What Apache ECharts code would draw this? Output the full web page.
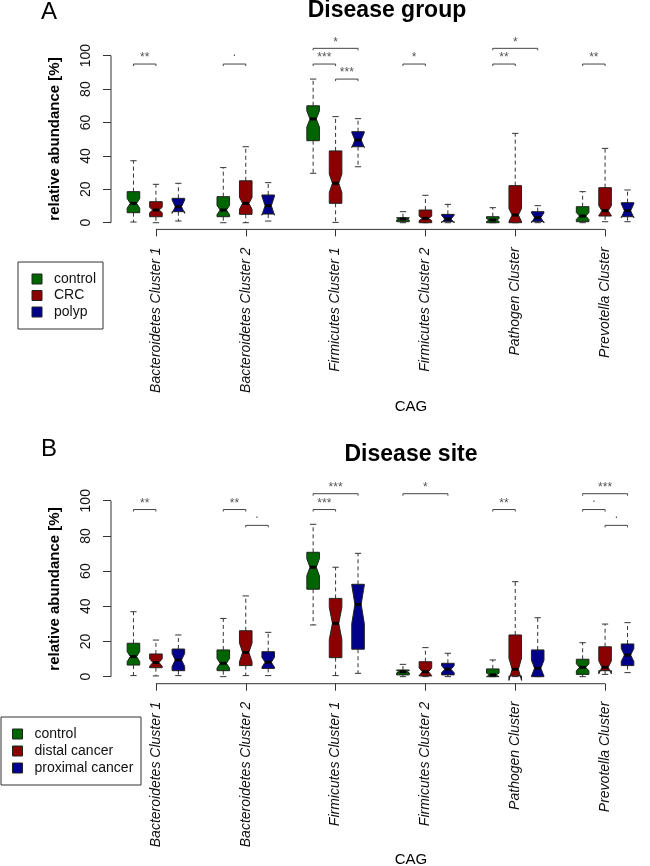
<!DOCTYPE html>
<html>
<head>
<meta charset="utf-8">
<script src="https://cdn.jsdelivr.net/npm/echarts@6/dist/echarts.min.js"></script>
<style>
	html, body { margin: 0; padding: 0; background: #fff; }
	#chart { width: 650px; height: 866px; }
</style>
</head>
<body>
<div id="chart"></div>
<script>
// CAG abundance boxplots, two panels
const categories = ["Bacteroidetes Cluster 1", "Bacteroidetes Cluster 2", "Firmicutes Cluster 1", "Firmicutes Cluster 2", "Pathogen Cluster", "Prevotella Cluster"]
const yTicks = [0, 20, 40, 60, 80, 100]
const catTicks = [2, 6, 10, 14, 18, 22]
const colors = ["#006400", "#8b0000", "#00008b"]

const groupsA = ["control", "CRC", "polyp"]
const groupsB = ["control", "distal cancer", "proximal cancer"]
// sample size per group (used for notch width, as in R)
const sizeA = [47, 80, 10]
const sizeB = [47, 34, 28]

// [lower whisker, Q1, median, Q3, upper whisker] per CAG
const controlA = [[0.4, 6.0, 11.6, 18.6, 37.1], [0, 3.6, 7.6, 15.6, 33], [29.6, 49.1, 62.1, 70, 86], [0, 0.6, 2.2, 3.0, 6.6], [0, 0, 1.6, 3.6, 9], [0, 0.6, 4, 9.6, 18.6]]
const crcA = [[0, 3.6, 7.6, 12.6, 23], [0, 5.0, 11.6, 25.1, 45.5], [0.2, 11.6, 23.6, 43, 63.5], [0, 0, 2.6, 7.6, 16.4], [0, 0, 4.6, 22.2, 53.5], [0.6, 4, 7.2, 21, 44.5]]
const polypA = [[1.0, 6.6, 9.6, 14.6, 23.6], [1.0, 5.2, 10.2, 16.6, 24], [33.5, 45.5, 49.5, 54.5, 62.3], [0, 0.6, 2.2, 5, 11], [0, 0.6, 3, 6.6, 10.2], [0.6, 3.6, 7.2, 12, 19.6]]

const controlB = [[0.6, 6.6, 11.4, 19, 36.9], [0, 3.4, 7.6, 15.2, 33.1], [29.4, 49.7, 62.2, 70.7, 86.6], [0, 1, 2.8, 3.8, 7], [0, 0, 1, 4.4, 9.5], [0, 1.3, 5.3, 9.9, 19.3]]
const distalB = [[0.4, 5.1, 8, 12.9, 20.8], [0.6, 6.3, 13.8, 26.1, 45.9], [0.6, 10.8, 30.3, 44.5, 62.2], [0, 0.4, 2.8, 8.5, 16.5], [0, 0.4, 4.2, 23.7, 54], [1.3, 3.4, 5.3, 17, 29.9]]
const proximalB = [[0.6, 3.4, 9.5, 15.7, 23.7], [0.6, 4.7, 8.2, 14.2, 25.2], [1.9, 15.6, 41.1, 52.5, 70.1], [0, 1, 4.2, 7.6, 13.3], [0, 0, 4.8, 15.2, 33.5], [2.3, 6.3, 12.3, 18.6, 30.7]]

// significance brackets: [CAG index, from group, to group, height, label]
const sigA = [[0, 0, 1, 95, "**"], [1, 0, 1, 95, "."], [2, 0, 2, 104.4, "*"], [2, 0, 1, 95, "***"], [2, 1, 2, 86, "***"], [3, 0, 1, 95, "*"], [4, 0, 2, 104.4, "*"], [4, 0, 1, 95, "**"], [5, 0, 1, 95, "**"]]
const sigB = [[0, 0, 1, 95, "**"], [1, 0, 1, 95, "**"], [1, 1, 2, 86, "."], [2, 0, 2, 104, "***"], [2, 0, 1, 95, "***"], [3, 0, 2, 104, "*"], [4, 0, 1, 95, "**"], [5, 0, 2, 104, "***"], [5, 0, 1, 95, "."], [5, 1, 2, 86, "."]]

const FONT = "'Liberation Sans', Arial, Helvetica, sans-serif"
const BOX_HALF = 0.28
const Y_MIN = -4
const Y_MAX = 104

function boxPos(cat, group) {
	return cat * 4 + 1 + group
}

function renderBox(params, api) {
	let x = api.value(0)
	let lo = api.value(1), q1 = api.value(2), med = api.value(3), q3 = api.value(4), hi = api.value(5)
	let n = api.value(6)
	let conf = 1.58 * (q3 - q1) / Math.sqrt(n)
	let c = function (a, b) {
		return api.coord([a, b])
	}
	let w = BOX_HALF, s = BOX_HALF / 2
	let pts = [c(x - w, q1), c(x + w, q1), c(x + w, med - conf), c(x + s, med), c(x + w, med + conf),
		c(x + w, q3), c(x - w, q3), c(x - w, med + conf), c(x - s, med), c(x - w, med - conf)]
	let dash = {stroke: "#333", lineWidth: 1, lineDash: [4, 3]}
	let solid = {stroke: "#333", lineWidth: 1}
	let line = function (p1, p2, style) {
		return {type: "line", shape: {x1: p1[0], y1: p1[1], x2: p2[0], y2: p2[1]}, style: style}
	}
	return {
		type: "group",
		children: [
			line(c(x, q3), c(x, hi), dash),
			line(c(x, q1), c(x, lo), dash),
			line(c(x - s, hi), c(x + s, hi), solid),
			line(c(x - s, lo), c(x + s, lo), solid),
			{type: "polygon", shape: {points: pts}, style: {fill: api.visual("color"), stroke: "#222", lineWidth: 1}},
			line(c(x - s, med), c(x + s, med), {stroke: "#000", lineWidth: 3})
		]
	}
}

function makeSigRenderer(sig) {
	return function (params, api) {
		let p1 = api.coord([api.value(0), api.value(2)])
		let p2 = api.coord([api.value(1), api.value(2)])
		let label = sig[params.dataIndex][4]
		let isDot = label == "."
		return {
			type: "group",
			children: [
				{type: "polyline", shape: {points: [[p1[0], p1[1] + 2], [p1[0], p1[1]], [p2[0], p2[1]], [p2[0], p2[1] + 2]]}, style: {stroke: "#444", lineWidth: 1, fill: null}},
				{type: "text", x: (p1[0] + p2[0]) / 2, y: p1[1] - (isDot ? 5 : 0), style: {text: label, align: "center", verticalAlign: "bottom", fontSize: 12, fontFamily: FONT, fill: "#555"}}
			]
		}
	}
}

function panelSeries(idx, groups, values, sizes, sig) {
	let series = []
	groups.forEach(function (g, gi) {
		series.push({
			name: g,
			type: "custom",
			xAxisIndex: idx,
			yAxisIndex: idx,
			itemStyle: {color: colors[gi]},
			encode: {x: 0, y: [1, 2, 3, 4, 5]},
			renderItem: renderBox,
			silent: true,
			data: values[gi].map(function (v, ci) {
				return [boxPos(ci, gi)].concat(v).concat([sizes[gi]])
			})
		})
	})
	series.push({
		type: "custom",
		xAxisIndex: idx,
		yAxisIndex: idx,
		encode: {x: [0, 1], y: 2},
		renderItem: makeSigRenderer(sig),
		silent: true,
		clip: false,
		data: sig.map(function (s) {
			return [boxPos(s[0], s[1]), boxPos(s[0], s[2]), s[3]]
		})
	})
	// R style axis lines: y from first to last tick, x from first to last category
	series.push({
		type: "line", xAxisIndex: idx, yAxisIndex: idx, symbol: "none", silent: true, clip: false,
		lineStyle: {color: "#333", width: 1},
		data: [[0, yTicks[0]], [0, yTicks[yTicks.length - 1]]]
	})
	series.push({
		type: "line", xAxisIndex: idx, yAxisIndex: idx, symbol: "none", silent: true, clip: false,
		lineStyle: {color: "#333", width: 1},
		data: [[catTicks[0], Y_MIN], [catTicks[catTicks.length - 1], Y_MIN]]
	})
	return series
}

function xAxisFor(idx) {
	return {
		gridIndex: idx, type: "value", min: 0, max: 24,
		splitLine: {show: false},
		axisLine: {show: false, onZero: false},
		axisTick: {show: true, length: 7, customValues: catTicks, lineStyle: {color: "#333"}},
		axisLabel: {
			customValues: catTicks, rotate: 90, margin: 18,
			fontSize: 14, fontStyle: "italic", fontFamily: FONT, color: "#111",
			formatter: function (v) {
				return categories[catTicks.indexOf(v)]
			}
		}
	}
}

function yAxisFor(idx) {
	return {
		gridIndex: idx, type: "value", min: Y_MIN, max: Y_MAX,
		splitLine: {show: false},
		axisLine: {show: false},
		axisTick: {show: true, length: 8, customValues: yTicks, lineStyle: {color: "#333"}},
		axisLabel: {customValues: yTicks, rotate: 90, margin: 18, fontSize: 14, fontFamily: FONT, color: "#111"}
	}
}

function legendGraphics(groups, box, sq) {
	let els = [{
		type: "rect",
		shape: {x: box[0], y: box[1], width: box[2], height: box[3]},
		style: {fill: "#fff", stroke: "#333", lineWidth: 1}
	}]
	groups.forEach(function (g, i) {
		let cy = sq[1] + i * sq[2]
		els.push({type: "rect", shape: {x: sq[0] - 5, y: cy - 5, width: 10, height: 10}, style: {fill: colors[i], stroke: "#222", lineWidth: 1}})
		els.push({type: "text", x: sq[0] + 17, y: cy, style: {text: g, fontSize: 14, fontFamily: FONT, fill: "#111", verticalAlign: "middle"}})
	})
	return els
}

function text(str, x, y, opts) {
	let style = Object.assign({text: str, fontFamily: FONT, fill: "#000", align: "center", verticalAlign: "middle"}, opts.style)
	return {type: "text", x: x, y: y, rotation: opts.rotation || 0, style: style}
}

let chart = echarts.init(document.getElementById("chart"), null, {renderer: "canvas"})

chart.setOption({
	animation: false,
	backgroundColor: "#fff",
	grid: [
		{left: 111, top: 49, width: 557, height: 180.4},
		{left: 111, top: 493.7, width: 557, height: 190}
	],
	xAxis: [xAxisFor(0), xAxisFor(1)],
	yAxis: [yAxisFor(0), yAxisFor(1)],
	series: panelSeries(0, groupsA, [controlA, crcA, polypA], sizeA, sigA)
		.concat(panelSeries(1, groupsB, [controlB, distalB, proximalB], sizeB, sigB)),
	graphic: [
		text("A", 49, 12, {style: {fontSize: 24}}),
		text("Disease group", 387, 11, {style: {fontSize: 23, fontWeight: "bold"}}),
		text("relative abundance [%]", 55, 139, {rotation: Math.PI / 2, style: {fontSize: 15, fontWeight: "bold"}}),
		text("CAG", 411, 407, {style: {fontSize: 15}}),
		text("B", 49, 449, {style: {fontSize: 24}}),
		text("Disease site", 411, 455, {style: {fontSize: 23, fontWeight: "bold"}}),
		text("relative abundance [%]", 55, 589, {rotation: Math.PI / 2, style: {fontSize: 15, fontWeight: "bold"}}),
		text("CAG", 411, 860, {style: {fontSize: 15}})
	].concat(legendGraphics(groupsA, [18, 262, 85, 67], [37, 279, 16.5]))
		.concat(legendGraphics(groupsB, [1, 717, 140, 68], [17.5, 734, 17]))
})
</script>
</body>
</html>
